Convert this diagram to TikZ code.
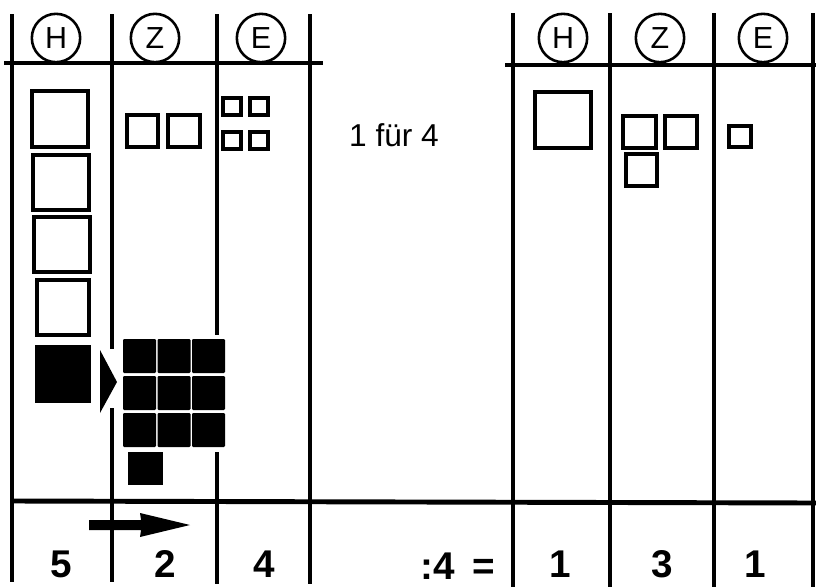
\documentclass[tikz,border=0pt]{standalone}
\usepackage{fontspec}
\setmainfont{Liberation Sans}
\usetikzlibrary{arrows.meta, positioning}

\tikzset{
  strich/.style={line width=3.4pt},
  kopflinie/.style={line width=4.2pt},
  kasten/.style={line width=2.7pt},
  kopf/.style={circle, draw, line width=2.2pt, minimum size=1.45cm,
               inner sep=0pt, font=\fontsize{26}{26}\selectfont},
  ziffer/.style={anchor=base, inner sep=0pt,
                 font=\fontsize{33}{33}\selectfont\bfseries},
}

\begin{document}
\begin{tikzpicture}[x=0.03cm, y=-0.03cm]
  \useasboundingbox (0,0) rectangle (816,587);
  % linke Stellentafel
  \draw[strich] (12,14) -- (12,582);
  \draw[strich] (112,14) -- (112,349);
  \draw[strich] (112,408) -- (112,582);
  \draw[strich] (217,14) -- (217,335);
  \draw[strich] (217,452) -- (217,584);
  \draw[strich] (310,14) -- (310,584);
  \draw[kopflinie] (4,63) -- (323,63);
  % rechte Stellentafel
  \draw[strich] (513,13) -- (513,587);
  \draw[strich] (610,13) -- (610,587);
  \draw[strich] (714,13) -- (714,587);
  \draw[strich] (813,13) -- (813,587);
  \draw[kopflinie] (505,65) -- (816,65);
  % Ergebniszeile
  \draw[kopflinie] (12,501) -- (816,503);
  % Koepfe
  \node[kopf] (kopfHl) at (56,38) {H};
  \node[kopf] (kopfZl) at (155,38) {Z};
  \node[kopf] (kopfEl) at (261,38) {E};
  \node[kopf] (kopfHr) at (563,38) {H};
  \node[kopf] (kopfZr) at (660,38) {Z};
  \node[kopf] (kopfEr) at (763,38) {E};
  % Hunderter links
  \draw[kasten] (32,91) rectangle (88,147);
  \draw[kasten] (33,155) rectangle (89,210);
  \draw[kasten] (34,217) rectangle (90,272);
  \draw[kasten] (37,280) rectangle (89,335);
  \fill (35,345) rectangle (91,403);
  % Zehner und Einer links
  \draw[kasten] (127,115) rectangle (158,147);
  \draw[kasten] (168,115) rectangle (200,147);
  \foreach \i in {0,1}
    \foreach \j in {0,1}
      \draw[kasten] ({223+27*\i},{98+34*\j}) rectangle ++(18,17);
  % Umtausch: 1 H in 10 Z
  \fill (100,350) -- (117,382) -- (100,413) -- cycle;
  \foreach \i in {0,1,2}
    \foreach \j in {0,1,2}
      \fill[rounded corners=1pt] ({123+34.5*\i},{339+37*\j}) rectangle ++(33,34);
  \fill (128,452) rectangle (163,485);
  \fill (89,520) -- (141,520) -- (140,513) -- (190,525) -- (140,537)
    -- (141,530) -- (89,530) -- cycle;
  \node[font=\fontsize{27}{27}\selectfont, anchor=base] (regel) at (394,146) {1 für 4};
  % rechte Tafel
  \draw[kasten] (535,92) rectangle (591,148);
  \draw[kasten] (623,116) rectangle (656,148);
  \draw[kasten] (665,116) rectangle (697,148);
  \draw[kasten] (626,154) rectangle (657,186);
  \draw[kasten] (729,126) rectangle (751,147);
  % Zahlen
  \node[ziffer] (zahlH) at (61,577) {5};
  \node[ziffer] (zahlZ) at (165,577) {2};
  \node[ziffer] (zahlE) at (264,577) {4};
  \node[ziffer] (teiler) at (458,579) {:4\hspace{0.45em}=};
  \node[ziffer] (ergH) at (560,577) {1};
  \node[ziffer] (ergZ) at (662,577) {3};
  \node[ziffer] (ergE) at (755,577) {1};
\end{tikzpicture}
\end{document}
